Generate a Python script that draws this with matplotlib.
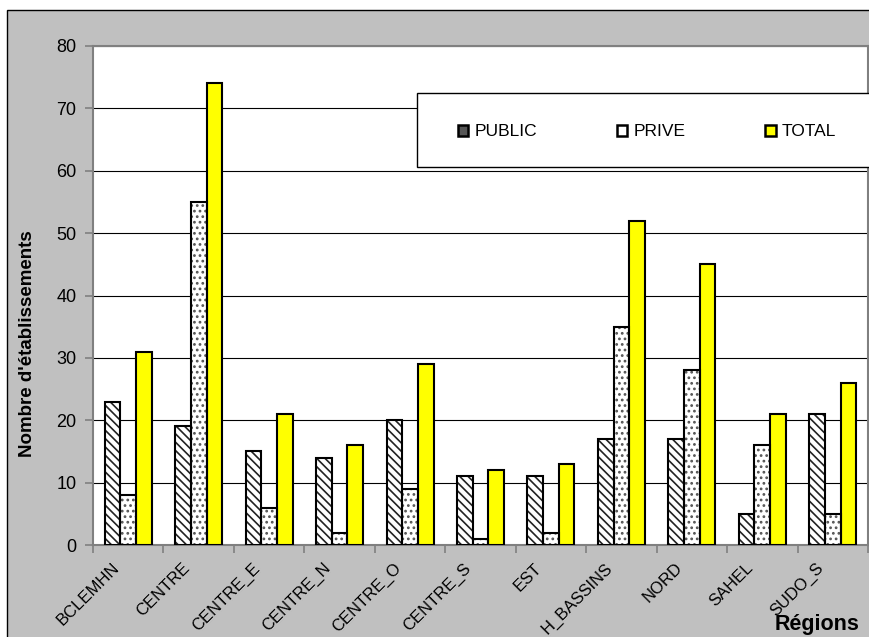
import matplotlib.pyplot as plt
from matplotlib.patches import Rectangle
from matplotlib.transforms import ScaledTranslation
import numpy as np

plt.rcParams['font.family'] = ['Liberation Sans', 'DejaVu Sans']
plt.rcParams['hatch.linewidth'] = 1.2

regions = ["BCLEMHN", "CENTRE", "CENTRE_E", "CENTRE_N", "CENTRE_O", "CENTRE_S",
           "EST", "H_BASSINS", "NORD", "SAHEL", "SUDO_S"]
public = [23, 19, 15, 14, 20, 11, 11, 17, 17, 5, 21]
prive = [8, 55, 6, 2, 9, 1, 2, 35, 28, 16, 5]
total = [31, 74, 21, 16, 29, 12, 13, 52, 45, 21, 26]

W, H = 869, 637
fig = plt.figure(figsize=(W / 100, H / 100), dpi=100, facecolor="white")

# grey chart background with a black frame (only top and left edges show)
fig.patches.append(Rectangle((7 / W, -0.2), 1.2, 1.2 - 10 / H,
                             transform=fig.transFigure, facecolor="#C0C0C0",
                             edgecolor="black", lw=1.0, zorder=-10))

ax = fig.add_axes([93 / W, 92 / H, (868 - 93) / W, (545 - 46) / H])
ax.set_zorder(1)
ax.set_facecolor("white")

x = np.arange(len(regions))
bw = 1 / 4.5

def draw(vals, offset, face, hatch, hcolor):
    # fill + hatch first, then a clean black outline on top
    ax.bar(x + offset, vals, bw, color=face, hatch=hatch, edgecolor=hcolor,
           linewidth=0, zorder=3)
    ax.bar(x + offset, vals, bw, fill=False, edgecolor="black", linewidth=1.5,
           zorder=4)

draw(public, -bw, "white", "\\\\\\\\", "#222222")
draw(prive, 0, "white", "...", "#555555")
draw(total, bw, "#FFFF00", None, "black")

ax.set_ylim(0, 80)
ax.set_xlim(-0.5, len(regions) - 0.5)
ax.set_yticks(range(0, 81, 10))
ax.yaxis.grid(True, color="black", lw=0.8)
ax.set_axisbelow(True)

for s in ax.spines.values():
    s.set_color("#808080")
    s.set_linewidth(1.5)

ax.tick_params(axis="y", direction="out", length=6, width=1.2, color="#808080",
               labelsize=13, pad=6)
ax.set_xticks(x)
ax.set_xticklabels(regions, rotation=45, ha="right", va="top",
                   rotation_mode="anchor", fontsize=12)
ax.tick_params(axis="x", which="major", length=0, pad=11)
ax.set_xticks(np.arange(-0.5, len(regions), 1), minor=True)
ax.tick_params(axis="x", which="minor", direction="out", length=6, width=1.2,
               color="#808080")

# labels end a little left of the category centre
for lbl in ax.get_xticklabels():
    lbl.set_transform(lbl.get_transform() + ScaledTranslation(-0.17, 0.0, fig.dpi_scale_trans))

fig.text(28 / W, 1 - 344 / H, "Nombre d'établissements", rotation=90,
         ha="center", va="center", fontsize=13.5, fontweight="bold")
fig.text(775 / W, 1 - 630 / H, "Régions", ha="left", va="baseline",
         fontsize=15.5, fontweight="bold", zorder=5)

# legend box running past the right edge
fig.patches.append(Rectangle((417 / W, 1 - 167 / H), 1.0, 74 / H,
                             transform=fig.transFigure, facecolor="white",
                             edgecolor="black", lw=1.0, zorder=5))
handles = [
    Rectangle((0, 0), 1, 1, facecolor="#555555", edgecolor="black", lw=1.8),
    Rectangle((0, 0), 1, 1, facecolor="white", edgecolor="black", lw=1.8),
    Rectangle((0, 0), 1, 1, facecolor="#FFFF00", edgecolor="black", lw=1.8),
]
leg = fig.legend(handles, ["PUBLIC", "PRIVE", "TOTAL"], loc="center left",
                 bbox_to_anchor=(458 / W, 1 - 132 / H), ncol=3, frameon=False,
                 fontsize=12.5, handlelength=0.6, handleheight=0.55,
                 handletextpad=0.35, columnspacing=4.6, borderpad=0,
                 borderaxespad=0)
leg.set_zorder(6)

fig.savefig("out.png", dpi=100, facecolor="white")
